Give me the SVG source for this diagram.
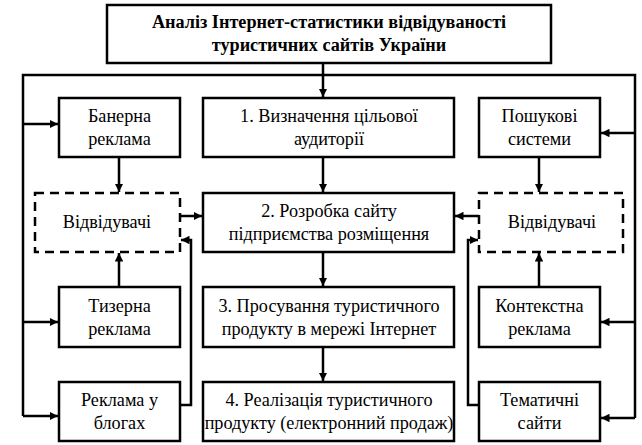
<svg xmlns="http://www.w3.org/2000/svg" width="642" height="445" viewBox="0 0 642 445">
<style>
.box{fill:#fff;stroke:#000;stroke-width:2.5}
.dash{fill:#fff;stroke:#000;stroke-width:2.5;stroke-dasharray:9 6}
text{text-anchor:middle;fill:#000}
.t{font-size:18.2px;font-weight:400}
.tb{font-size:18.2px;font-weight:700}
.ln{fill:none;stroke:#000;stroke-width:2.5}
</style>
<defs>
<marker id="ah" viewBox="0 0 10 10" refX="10" refY="5" markerWidth="3.4" markerHeight="3.4" orient="auto" markerUnits="strokeWidth">
<path d="M0,0 L10,5 L0,10 z" fill="#000"/>
</marker>
</defs>
<rect width="642" height="445" fill="#fff"/>
<g id="connectors">
<polyline class="ln" points="23,416 23,75 635,75 635,418"/>
<line class="ln" x1="323" y1="63" x2="323" y2="97" marker-end="url(#ah)"/>
<line class="ln" x1="23" y1="124" x2="58" y2="124" marker-end="url(#ah)"/>
<line class="ln" x1="23" y1="322" x2="58" y2="322" marker-end="url(#ah)"/>
<line class="ln" x1="23" y1="416" x2="58" y2="416" marker-end="url(#ah)"/>
<line class="ln" x1="635" y1="133" x2="601" y2="133" marker-end="url(#ah)"/>
<line class="ln" x1="635" y1="322" x2="601" y2="322" marker-end="url(#ah)"/>
<line class="ln" x1="635" y1="418" x2="601" y2="418" marker-end="url(#ah)"/>
<line class="ln" x1="323" y1="157" x2="323" y2="192" marker-end="url(#ah)"/>
<line class="ln" x1="323" y1="252" x2="323" y2="286" marker-end="url(#ah)"/>
<line class="ln" x1="323" y1="347" x2="323" y2="381" marker-end="url(#ah)"/>
<line class="ln" x1="119" y1="157" x2="119" y2="192" marker-end="url(#ah)"/>
<line class="ln" x1="119" y1="287" x2="119" y2="253" marker-end="url(#ah)"/>
<line class="ln" x1="180" y1="216" x2="202" y2="216" marker-end="url(#ah)"/>
<polyline class="ln" points="180,405 191,405 191,240 181,240" marker-end="url(#ah)"/>
<line class="ln" x1="539" y1="157" x2="539" y2="192" marker-end="url(#ah)"/>
<line class="ln" x1="539" y1="287" x2="539" y2="253" marker-end="url(#ah)"/>
<line class="ln" x1="479" y1="216" x2="455" y2="216" marker-end="url(#ah)"/>
<polyline class="ln" points="479,405 468,405 468,240 478,240" marker-end="url(#ah)"/>
</g>
<g font-family="Times New Roman, Liberation Serif, serif">
<g id="top">
<rect class="box" x="107" y="5" width="444" height="58"/>
<text class="tb" x="329" y="28">Аналіз Інтернет-статистики відвідуваності</text>
<text class="tb" x="329" y="51">туристичних сайтів України</text>
</g>
<g id="step1">
<rect class="box" x="203" y="98" width="251" height="59"/>
<text class="t" x="329" y="122">1. Визначення цільової</text>
<text class="t" x="329" y="145">аудиторії</text>
</g>
<g id="step2">
<rect class="box" x="203" y="193" width="251" height="59"/>
<text class="t" x="329" y="217">2. Розробка сайту</text>
<text class="t" x="329" y="240">підприємства розміщення</text>
</g>
<g id="step3">
<rect class="box" x="203" y="287" width="251" height="60"/>
<text class="t" x="329" y="312">3. Просування туристичного</text>
<text class="t" x="329" y="335">продукту в мережі Інтернет</text>
</g>
<g id="step4">
<rect class="box" x="203" y="382" width="251" height="59"/>
<text class="t" x="329" y="406">4. Реалізація туристичного</text>
<text class="t" x="329" y="429">продукту (електронний продаж)</text>
</g>
<g id="banner">
<rect class="box" x="59" y="98" width="121" height="59"/>
<text class="t" x="119.5" y="122">Банерна</text>
<text class="t" x="119.5" y="145">реклама</text>
</g>
<g id="visitors-left">
<rect class="dash" x="35" y="193" width="145" height="59"/>
<text class="t" x="107" y="228">Відвідувачі</text>
</g>
<g id="teaser">
<rect class="box" x="59" y="287" width="121" height="60"/>
<text class="t" x="119.5" y="312">Тизерна</text>
<text class="t" x="119.5" y="335">реклама</text>
</g>
<g id="blogs">
<rect class="box" x="59" y="382" width="121" height="59"/>
<text class="t" x="119.5" y="406">Реклама у</text>
<text class="t" x="119.5" y="429">блогах</text>
</g>
<g id="search">
<rect class="box" x="479" y="98" width="121" height="59"/>
<text class="t" x="539.5" y="122">Пошукові</text>
<text class="t" x="539.5" y="145">системи</text>
</g>
<g id="visitors-right">
<rect class="dash" x="479" y="193" width="144" height="59"/>
<text class="t" x="552" y="228">Відвідувачі</text>
</g>
<g id="context">
<rect class="box" x="479" y="287" width="121" height="60"/>
<text class="t" x="539.5" y="312">Контекстна</text>
<text class="t" x="539.5" y="335">реклама</text>
</g>
<g id="thematic">
<rect class="box" x="479" y="382" width="121" height="59"/>
<text class="t" x="539.5" y="406">Тематичні</text>
<text class="t" x="539.5" y="429">сайти</text>
</g>
</g>
</svg>
